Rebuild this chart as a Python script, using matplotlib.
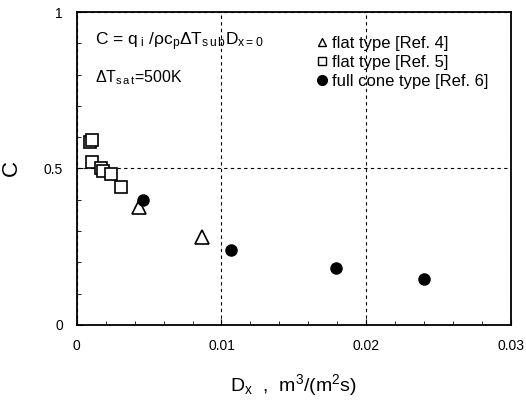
import matplotlib
matplotlib.use("Agg")
import matplotlib.pyplot as plt
from matplotlib.ticker import MultipleLocator
from matplotlib.lines import Line2D

# Ref. 4, flat type (triangles)
ref4_x = [0.0043, 0.00865]
ref4_y = [0.378, 0.282]

# Ref. 5, flat type (squares)
ref5_x = [0.00091, 0.00107, 0.00103, 0.00165, 0.00183, 0.00236, 0.00304]
ref5_y = [0.585, 0.591, 0.520, 0.500, 0.492, 0.482, 0.439]

# Ref. 6, full cone type (filled circles)
ref6_x = [0.00457, 0.01065, 0.0179, 0.0240]
ref6_y = [0.400, 0.240, 0.183, 0.146]

plt.rcParams['font.family'] = ['Liberation Sans', 'DejaVu Sans']
plt.rcParams['mathtext.fontset'] = 'custom'
plt.rcParams['mathtext.rm'] = 'Liberation Sans'
plt.rcParams['mathtext.it'] = 'Liberation Sans'

fig = plt.figure(figsize=(5.26, 4.01), dpi=100)
ax = fig.add_axes([0.146, 0.19, 0.825, 0.78])

ax.plot(ref5_x, ref5_y, 's', ms=9, mfc='white', mec='black', mew=1.2, ls='none')
ax.plot(ref4_x, ref4_y, '^', ms=10, mfc='white', mec='black', mew=1.2, ls='none')
ax.plot(ref6_x, ref6_y, 'o', ms=8, mfc='black', mec='black', ls='none')

ax.set_xlim(0, 0.03)
ax.set_ylim(0, 1)
ax.set_xticks([0, 0.01, 0.02, 0.03])
ax.set_xticklabels(['0', '0.01', '0.02', '0.03'])
ax.set_yticks([0, 0.5, 1])
ax.set_yticklabels(['0', '0.5', '1'])
ax.xaxis.set_minor_locator(MultipleLocator(0.002))
ax.yaxis.set_minor_locator(MultipleLocator(0.1))
ax.tick_params(which='both', direction='in', labelsize=10)
ax.tick_params(which='major', length=4, pad=10)
ax.tick_params(which='minor', length=3)
ax.grid(True, which='major', ls=(0, (3, 3)), color='black', lw=0.8)
for s in ax.spines.values():
    s.set_linewidth(1.3)

ax.text(0.00126, 0.904, r'C = q$_{\ i}$ /$\rho$c$_p$$\Delta$T$_{s\,u\,b}$D$_{x=0}$',
        fontsize=12.5, va='center')
ax.text(0.00126, 0.79, r'$\Delta$T$_{s\,a\,t}$=500K', fontsize=11.5, va='center')

handles = [
    Line2D([], [], marker='^', ms=6, mfc='white', mec='black', ls='none'),
    Line2D([], [], marker='s', ms=6, mfc='white', mec='black', ls='none'),
    Line2D([], [], marker='o', ms=7, mfc='black', mec='black', ls='none'),
]
labels = ['flat type [Ref. 4]', 'flat type [Ref. 5]', 'full cone type [Ref. 6]']
ax.legend(handles, labels, loc='upper left', bbox_to_anchor=(0.527, 0.961), frameon=False,
          fontsize=12, handlelength=0.6, handletextpad=0.3, labelspacing=0.25, borderpad=0.2)

ax.set_ylabel('C', fontsize=16)
ax.yaxis.set_label_coords(-0.126, 0.5)
ax.set_xlabel(r'D$_x$  ,  m$^3$/(m$^2$s)', fontsize=14, labelpad=14)

fig.savefig('out.png', dpi=100)
